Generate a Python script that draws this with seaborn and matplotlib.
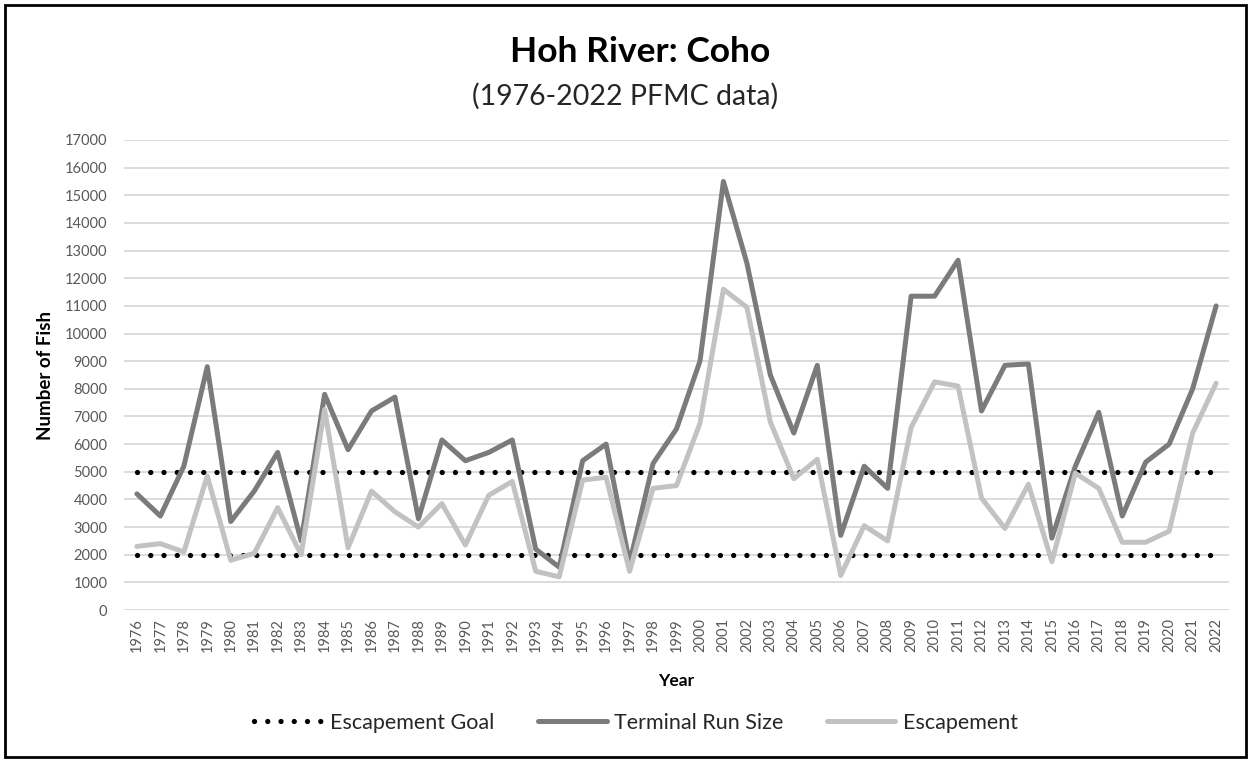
import matplotlib
matplotlib.use("Agg")
import matplotlib.pyplot as plt
import seaborn as sns
import pandas as pd
from matplotlib.patches import Rectangle

# Hoh River coho, 1976-2022
years = list(range(1976, 2023))

terminal_run = [4200, 3400, 5200, 8800, 3200, 4300, 5700, 2500, 7800, 5800,
                7200, 7700, 3300, 6150, 5400, 5700, 6150, 2200, 1550, 5400,
                6000, 1700, 5300, 6550, 9000, 15500, 12550, 8500, 6400, 8850,
                2700, 5200, 4400, 11350, 11350, 12650, 7200, 8850, 8900, 2600,
                5200, 7150, 3400, 5350, 6000, 8000, 11000]

escapement = [2300, 2400, 2100, 4850, 1800, 2050, 3700, 2000, 7250, 2250,
              4300, 3550, 3000, 3850, 2350, 4150, 4650, 1400, 1200, 4700,
              4800, 1400, 4400, 4500, 6750, 11600, 10950, 6800, 4750, 5450,
              1250, 3050, 2500, 6600, 8250, 8100, 4050, 2950, 4550, 1750,
              4950, 4400, 2450, 2450, 2850, 6400, 8200]

goal_low = 2000
goal_high = 5000

DARK = "#7b7b7b"
LIGHT = "#c2c2c2"
TEXT = "#595959"

df = pd.DataFrame({
    "Year": years,
    "Terminal Run Size": terminal_run,
    "Escapement": escapement,
    "GoalLow": [goal_low] * len(years),
    "GoalHigh": [goal_high] * len(years),
})

sns.set_theme(style="white")
plt.rcParams["font.family"] = ["Lato", "DejaVu Sans"]

fig = plt.figure(figsize=(12.51, 7.61), dpi=100)
ax = fig.add_axes([124 / 1251, 1 - 610 / 761, (1229 - 124) / 1251, 470 / 761])

dot = dict(color="black", linewidth=3.8, linestyle=(0, (0.01, 2.5)),
           dash_capstyle="round", solid_capstyle="round")
sns.lineplot(data=df, x="Year", y="GoalHigh", ax=ax, label="Escapement Goal", **dot)
sns.lineplot(data=df, x="Year", y="GoalLow", ax=ax, label="_nolegend_", **dot)
sns.lineplot(data=df, x="Year", y="Terminal Run Size", ax=ax, color=DARK,
             linewidth=3.6, label="Terminal Run Size")
sns.lineplot(data=df, x="Year", y="Escapement", ax=ax, color=LIGHT,
             linewidth=3.6, label="Escapement")

ax.set_xlim(1975.45, 2022.55)
ax.set_ylim(0, 17000)
ax.set_yticks(range(0, 17001, 1000))
ax.set_yticklabels([str(v) for v in range(0, 17001, 1000)], fontsize=10.5, color=TEXT)
ax.set_xticks(years)
ax.set_xticklabels([str(y) for y in years], rotation=90, fontsize=10.5, color=TEXT)
ax.tick_params(axis="y", length=0, pad=12)
ax.tick_params(axis="x", length=0, pad=6)
ax.grid(axis="y", color="#d9d9d9", linewidth=1.3)
ax.set_axisbelow(True)
for s in ax.spines.values():
    s.set_visible(False)

ax.set_xlabel("Year", fontsize=12.5, fontweight="bold", color="black", labelpad=15)
ax.set_ylabel("Number of Fish", fontsize=13.5, fontweight="bold", color="black", labelpad=8)

fig.text(0.512, 0.932, "Hoh River: Coho", ha="center", va="center",
         fontsize=25.5, fontweight="bold", color="black")
fig.text(0.5, 0.874, "(1976-2022 PFMC data)", ha="center", va="center",
         fontsize=20.5, color="#262626")

ax.legend(loc="center", bbox_to_anchor=(636 / 1251, (761 - 723) / 761),
          bbox_transform=fig.transFigure, ncol=3, frameon=False,
          fontsize=15.5, handlelength=3.2, columnspacing=2.0, handletextpad=0.35,
          labelcolor="#262626")

fig.patches.append(Rectangle((5 / 1251, 4 / 761), 1241 / 1251, 752 / 761,
                             transform=fig.transFigure, fill=False,
                             edgecolor="black", linewidth=2))

fig.savefig("out.png", dpi=100)
